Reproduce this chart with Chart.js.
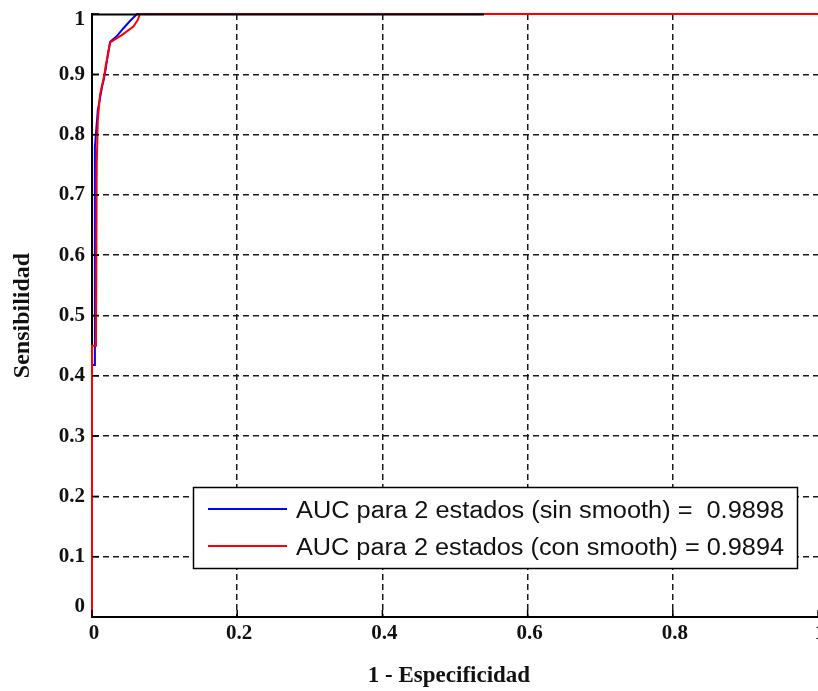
<!DOCTYPE html>
<html>
<head>
<meta charset="utf-8">
<script src="https://cdn.jsdelivr.net/npm/chart.js@4/dist/chart.umd.min.js"></script>
<style>
  html, body { margin: 0; padding: 0; background: #fff; overflow: hidden; }
  canvas { display: block; }
</style>
</head>
<body>
<canvas id="roc" width="818" height="691"></canvas>
<script>
// ROC curves: 1 - specificity (x) vs sensitivity (y)
const sinSmoothX = [0, 0, 0.004, 0.004, 0.006, 0.008, 0.011, 0.014, 0.016, 0.019, 0.022, 0.025, 0.034, 0.043, 0.052, 0.062, 0.54];
const sinSmoothY = [0, 0.418, 0.418, 0.78, 0.81, 0.84, 0.86, 0.88, 0.89, 0.91, 0.935, 0.954, 0.963, 0.976, 0.988, 1, 1];

const conSmoothX = [0, 0, 0.0055, 0.0065, 0.008, 0.011, 0.013, 0.017, 0.019, 0.022, 0.025, 0.041, 0.057, 0.063, 0.066, 1];
const conSmoothY = [0, 0.45, 0.45, 0.75, 0.824, 0.866, 0.877, 0.899, 0.915, 0.932, 0.953, 0.965, 0.979, 0.99, 1, 1];

const seriesNames = ['AUC para 2 estados (sin smooth) =  ', 'AUC para 2 estados (con smooth) = '];
const aucValues = ['0.9898', '0.9894'];
const seriesColors = ['#0000ff', '#ff0000'];

const xTickLabels = ['0', '0.2', '0.4', '0.6', '0.8', '1'];
const yTickLabels = ['0', '0.1', '0.2', '0.3', '0.4', '0.5', '0.6', '0.7', '0.8', '0.9', '1'];

const xTitle = '1 - Especificidad';
const yTitle = 'Sensibilidad';

const toPoints = (xs, ys) => xs.map((x, i) => ({ x, y: ys[i] }));

const tickFont = 'bold 21px "Liberation Serif", "DejaVu Serif", serif';

// hide grid lines that coincide with the axes box
const gridColor = ctx => (ctx.tick && (ctx.tick.value === 0 || ctx.tick.value === 1)) ? 'rgba(0,0,0,0)' : '#1a1a1a';

// axes box pieces, inward tick marks, tick labels, titles and the legend box
const decorations = {
  id: 'decorations',
  afterDatasetsDraw(chart) {
    const { ctx, chartArea: a, scales: { x, y } } = chart;
    ctx.save();
    ctx.strokeStyle = '#000';
    ctx.lineWidth = 2;
    ctx.setLineDash([]);
    // top edge of the box, visible up to where the red curve covers it
    ctx.beginPath();
    ctx.moveTo(a.left, a.top + 0.5);
    ctx.lineTo(x.getPixelForValue(0.54), a.top + 0.5);
    ctx.stroke();
    // inward tick marks
    ctx.lineWidth = 1.5;
    x.ticks.forEach(t => {
      const px = x.getPixelForValue(t.value);
      ctx.beginPath();
      ctx.moveTo(px, a.bottom);
      ctx.lineTo(px, a.bottom - 7);
      ctx.stroke();
    });
    y.ticks.forEach(t => {
      const py = y.getPixelForValue(t.value);
      ctx.beginPath();
      ctx.moveTo(a.left, py);
      ctx.lineTo(a.left + 7, py);
      ctx.stroke();
    });
    ctx.restore();
  },
  afterDraw(chart) {
    const { ctx, chartArea: a, scales: { x, y } } = chart;
    ctx.save();
    ctx.fillStyle = '#111';
    ctx.font = tickFont;
    // y tick labels, kept inside the vertical extent of the axes
    ctx.textAlign = 'right';
    ctx.textBaseline = 'middle';
    y.ticks.forEach(t => {
      let py = y.getPixelForValue(t.value);
      py = Math.min(Math.max(py, a.top + 6), a.bottom - 10);
      ctx.fillText(t.label, a.left - 7, py);
    });
    // x tick labels
    ctx.textAlign = 'center';
    x.ticks.forEach(t => {
      const px = x.getPixelForValue(t.value);
      ctx.fillText(t.label, px + 2, a.bottom + 17);
    });
    // axis titles
    ctx.font = 'bold 23px "Liberation Serif", "DejaVu Serif", serif';
    ctx.textBaseline = 'alphabetic';
    ctx.fillText(xTitle, (a.left + a.right) / 2 - 6, a.bottom + 65);
    ctx.save();
    ctx.translate(29, (a.top + a.bottom) / 2);
    ctx.rotate(-Math.PI / 2);
    ctx.font = 'bold 24px "Liberation Serif", "DejaVu Serif", serif';
    ctx.fillText(yTitle, 0, 0);
    ctx.restore();

    // legend box
    const bx0 = 193.5, bx1 = 797.5, by0 = 487.5, by1 = 568.5;
    ctx.fillStyle = '#fff';
    ctx.fillRect(bx0, by0, bx1 - bx0, by1 - by0);
    ctx.strokeStyle = '#000';
    ctx.lineWidth = 1.5;
    ctx.strokeRect(bx0, by0, bx1 - bx0, by1 - by0);
    const rows = [509, 546];
    ctx.font = '23px "Liberation Sans", Arial, sans-serif';
    ctx.textAlign = 'left';
    ctx.textBaseline = 'alphabetic';
    rows.forEach((ry, i) => {
      ctx.strokeStyle = seriesColors[i];
      ctx.lineWidth = 2;
      ctx.beginPath();
      ctx.moveTo(208, ry);
      ctx.lineTo(287, ry);
      ctx.stroke();
      const text = seriesNames[i] + aucValues[i];
      const w = ctx.measureText(text).width;
      const sx = 488 / w;
      ctx.save();
      ctx.translate(296, ry + 9);
      ctx.scale(sx, 1);
      ctx.fillStyle = '#111';
      ctx.fillText(text, 0, 0);
      ctx.restore();
    });
    ctx.restore();
  }
};

new Chart(document.getElementById('roc'), {
  type: 'scatter',
  data: {
    datasets: [
      {
        label: seriesNames[0] + aucValues[0],
        data: toPoints(sinSmoothX, sinSmoothY),
        showLine: true,
        borderColor: seriesColors[0],
        backgroundColor: seriesColors[0],
        borderWidth: 2,
        pointRadius: 0,
        tension: 0,
        order: 1
      },
      {
        label: seriesNames[1] + aucValues[1],
        data: toPoints(conSmoothX, conSmoothY),
        showLine: true,
        borderColor: seriesColors[1],
        backgroundColor: seriesColors[1],
        borderWidth: 2,
        pointRadius: 0,
        tension: 0,
        order: 0
      }
    ]
  },
  options: {
    responsive: false,
    animation: false,
    devicePixelRatio: 1,
    clip: false,
    layout: { padding: { top: 14, right: 0, left: 0, bottom: 0 } },
    plugins: { legend: { display: false }, tooltip: { enabled: false } },
    scales: {
      x: {
        type: 'linear',
        min: 0,
        max: 1,
        ticks: { stepSize: 0.2, display: false, callback: (v, i) => xTickLabels[i] },
        grid: { color: gridColor, lineWidth: 1.5, drawTicks: false },
        border: { display: true, color: '#000', width: 2, dash: [6, 4] },
        afterFit: s => { s.height = 74; s.paddingLeft = 0; s.paddingRight = 0; }
      },
      y: {
        type: 'linear',
        min: 0,
        max: 1,
        ticks: { stepSize: 0.1, display: false, callback: (v, i) => yTickLabels[i] },
        grid: { color: gridColor, lineWidth: 1.5, drawTicks: false },
        border: { display: true, color: '#000', width: 2, dash: [6, 4] },
        afterFit: s => { s.width = 92; s.paddingTop = 0; s.paddingBottom = 0; }
      }
    }
  },
  plugins: [decorations]
});
</script>
</body>
</html>
